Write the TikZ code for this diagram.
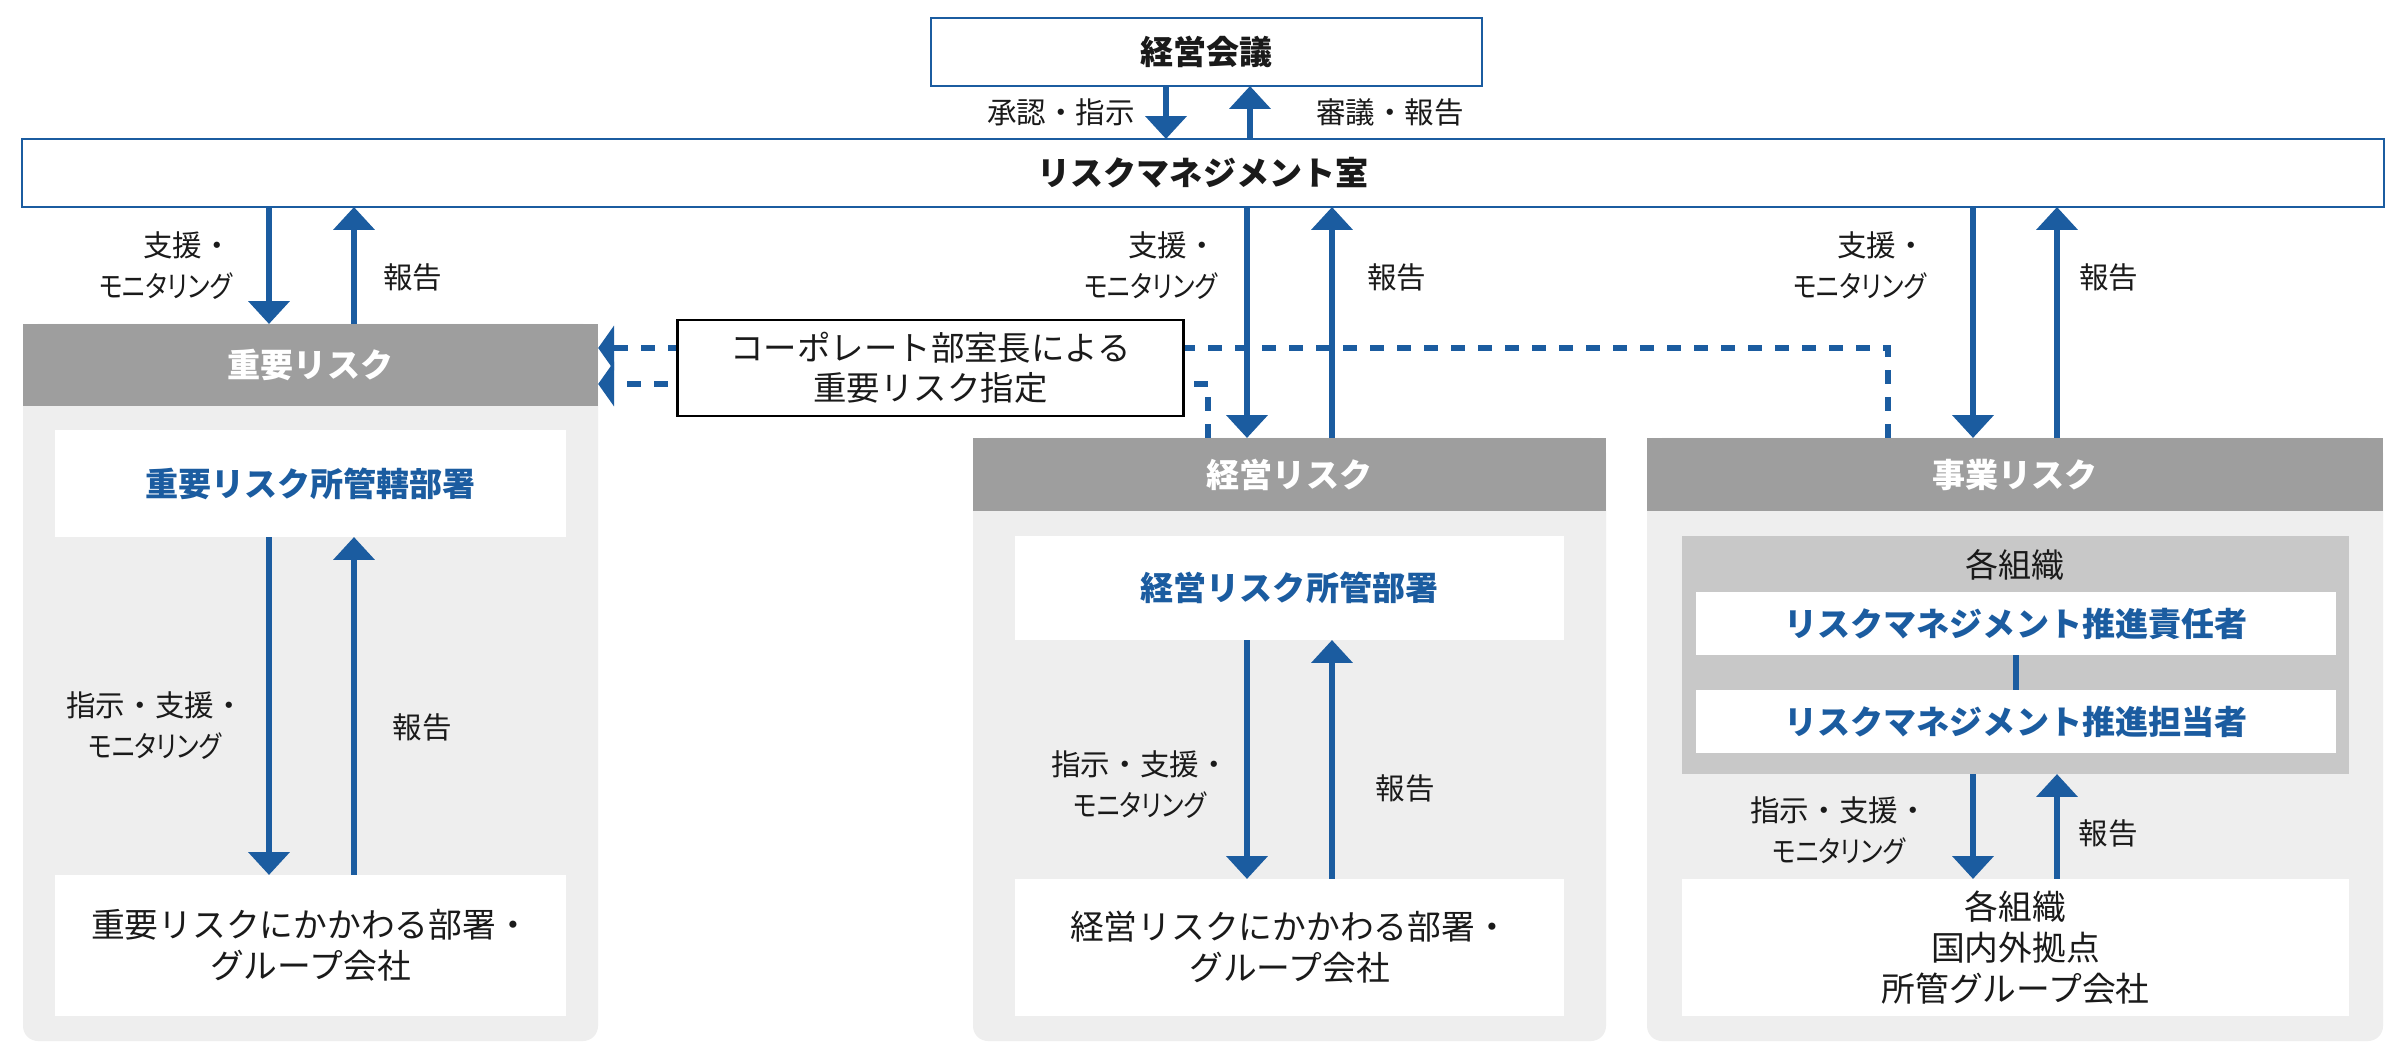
\documentclass[tikz,border=0pt]{standalone}
\usepackage{fontspec}
\usepackage{graphicx}
\setmainfont{Noto Sans CJK JP}
\newfontfamily\jpp{Noto Sans CJK JP}[RawFeature=+palt]
\usetikzlibrary{arrows.meta}
\definecolor{rblue}{HTML}{1B5CA0}
\definecolor{hgray}{HTML}{9E9E9E}
\definecolor{bgray}{HTML}{EEEEEE}
\definecolor{igray}{HTML}{C8C8C8}
\definecolor{tblack}{HTML}{1A1A1A}
\newcommand{\moni}{\scalebox{0.84}[1]{\jpp モニタリング}}
\begin{document}
\begin{tikzpicture}[x=0.01cm,y=-0.01cm,
  every node/.style={inner sep=0pt, outer sep=0pt, text=tblack, font=\fontsize{9.4}{11.5}\selectfont},
  topbox/.style={draw=rblue, line width=0.6pt, fill=white, font=\fontsize{9.4}{11.5}\selectfont\bfseries},
  header/.style={fill=hgray, text=white, font=\fontsize{9.4}{11.5}\selectfont\bfseries},
  bluebox/.style={fill=white, text=rblue, font=\fontsize{9.4}{11.5}\selectfont\bfseries},
  plainbox/.style={fill=white, align=center, font=\fontsize{9.6}{11.6}\selectfont},
  lbl/.style={font=\fontsize{8.4}{11.7}\selectfont},
  arr/.style={draw=rblue, line width=1.6pt, -{Triangle[width=11.5pt,length=6.5pt]}},
  dsh/.style={draw=rblue, line width=1.55pt, dash pattern=on 3.84pt off 3.84pt, -{Triangle[width=12.5pt,length=4.5pt]}},
  link/.style={draw=rblue, line width=1.5pt}
]
\useasboundingbox (0,0) rectangle (2400,1061);
\fill[white] (0,0) rectangle (2400,1061);

% column backgrounds
\fill[bgray, rounded corners=0.15cm] (23,324) rectangle (598,1041);
\fill[bgray, rounded corners=0.15cm] (973,438) rectangle (1606,1041);
\fill[bgray, rounded corners=0.15cm] (1647,438) rectangle (2383,1041);

% top boxes
\node[topbox, minimum width=5.51cm, minimum height=0.68cm] (A) at (1206.5,52) {経営会議};
\node[topbox, minimum width=23.60cm, minimum height=0.68cm] (B) at (1203,173) {リスクマネジメント室};

% headers
\node[header, minimum width=5.75cm, minimum height=0.82cm] (hL) at (310.5,365) {重要リスク};
\node[header, minimum width=6.33cm, minimum height=0.73cm] (hM) at (1289.5,474.5) {経営リスク};
\node[header, minimum width=7.36cm, minimum height=0.73cm] (hR) at (2015,474.5) {事業リスク};

% left column
\node[bluebox, minimum width=5.11cm, minimum height=1.07cm] (L1) at (310.5,483.5) {重要リスク所管轄部署};
\node[plainbox, minimum width=5.11cm, minimum height=1.41cm] (L2) at (310.5,945.5) {重要リスクにかかわる部署・\\グループ会社};

% middle column
\node[bluebox, minimum width=5.49cm, minimum height=1.04cm] (M1) at (1289.5,588) {経営リスク所管部署};
\node[plainbox, minimum width=5.49cm, minimum height=1.37cm] (M2) at (1289.5,947.5) {経営リスクにかかわる部署・\\グループ会社};

% right column
\node[fill=igray, minimum width=6.67cm, minimum height=2.38cm] (Rg) at (2015.5,655) {};
\node (Rt) at (2015,565) {各組織};
\node[bluebox, minimum width=6.40cm, minimum height=0.63cm] (R1) at (2016,623.5) {リスクマネジメント推進責任者};
\node[bluebox, minimum width=6.40cm, minimum height=0.63cm] (R2) at (2016,721.5) {リスクマネジメント推進担当者};
\node[plainbox, minimum width=6.67cm, minimum height=1.37cm] (R3) at (2015.5,947.5) {各組織\\国内外拠点\\所管グループ会社};
\draw[link] (R1.south) -- (R2.north);

% x positions of arrows
\coordinate (xa) at (1166,0);
\coordinate (xb) at (1250,0);
\coordinate (xl1) at (269,0);
\coordinate (xl2) at (354,0);
\coordinate (xm1) at (1247,0);
\coordinate (xm2) at (1332,0);
\coordinate (xr1) at (1973,0);
\coordinate (xr2) at (2057,0);

% dashed designation lines
\coordinate (dM) at (1208,0);
\coordinate (dR) at (1888,0);
\coordinate (yT) at (0,348);
\coordinate (yB) at (0,384);
\draw[dsh] (dR |- hR.north) -- (dR |- yT) -- (hL.east |- yT);
\draw[dsh] (dM |- hM.north) -- (dM |- yB) -- (hL.east |- yB);
\node[draw=black, line width=0.8pt, fill=white, align=center, minimum width=5.05cm, minimum height=0.96cm,
      font=\fontsize{9.5}{11.4}\selectfont] (D) at (930.5,368) {コーポレート部室長による\\重要リスク指定};

% top arrows
\draw[arr] (xa |- A.south) -- (xa |- B.north);
\draw[arr] (xb |- B.north) -- (xb |- A.south);
\node[lbl, anchor=east] (la1) at (1135,112) {承認・指示};
\node[lbl, anchor=west] (la2) at (1316,112) {審議・報告};

% RM room to columns
\draw[arr] (xl1 |- B.south) -- (xl1 |- hL.north);
\draw[arr] (xl2 |- hL.north) -- (xl2 |- B.south);
\draw[arr] (xm1 |- B.south) -- (xm1 |- hM.north);
\draw[arr] (xm2 |- hM.north) -- (xm2 |- B.south);
\draw[arr] (xr1 |- B.south) -- (xr1 |- hR.north);
\draw[arr] (xr2 |- hR.north) -- (xr2 |- B.south);
\node[lbl, anchor=east, align=right] (lb1) at (232,266) {支援・\\\moni};
\node[lbl, anchor=west] (lb2) at (383,277) {報告};
\node[lbl, anchor=east, align=right] (lb3) at (1217,266) {支援・\\\moni};
\node[lbl, anchor=west] (lb4) at (1367,277) {報告};
\node[lbl, anchor=east, align=right] (lb5) at (1926,266) {支援・\\\moni};
\node[lbl, anchor=west] (lb6) at (2079,277) {報告};

% inner arrows
\draw[arr] (xl1 |- L1.south) -- (xl1 |- L2.north);
\draw[arr] (xl2 |- L2.north) -- (xl2 |- L1.south);
\draw[arr] (xm1 |- M1.south) -- (xm1 |- M2.north);
\draw[arr] (xm2 |- M2.north) -- (xm2 |- M1.south);
\draw[arr] (xr1 |- Rg.south) -- (xr1 |- R3.north);
\draw[arr] (xr2 |- R3.north) -- (xr2 |- Rg.south);
\node[lbl, align=center] (lc1) at (155,726) {指示・支援・\\\moni};
\node[lbl] (lc2) at (422,727) {報告};
\node[lbl, align=center] (lc3) at (1140,785) {指示・支援・\\\moni};
\node[lbl] (lc4) at (1405,788) {報告};
\node[lbl, align=center] (lc5) at (1839,831) {指示・支援・\\\moni};
\node[lbl] (lc6) at (2108,833) {報告};
\end{tikzpicture}
\end{document}
